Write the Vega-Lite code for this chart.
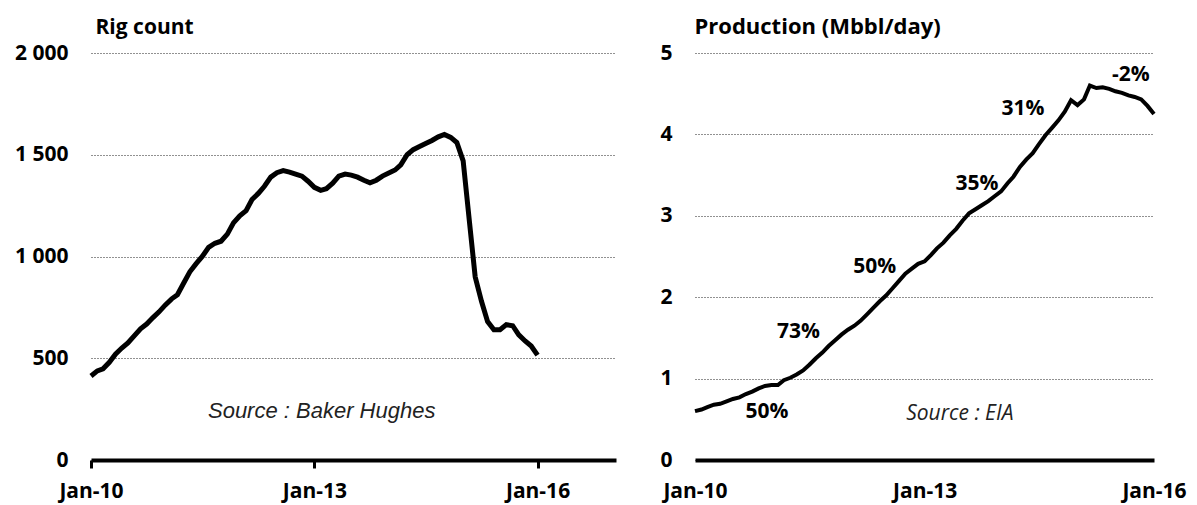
{
  "$schema": "https://vega.github.io/schema/vega-lite/v6.json",
  "background": "white",
  "padding": {"left": 14, "top": 15, "right": 5, "bottom": 5},
  "autosize": {"type": "pad"},
  "spacing": 43,
  "config": {
    "view": {"stroke": null},
    "axis": {"labelFont": "Open Sans", "labelFontWeight": "bold", "labelFontSize": 21, "labelColor": "#000", "titleFont": "Open Sans", "titleFontWeight": "bold", "titleFontSize": 21, "titleColor": "#000"}
  },
  "datasets": {
    "rigs": [
      {"date":"2010-01-01","v":413},{"date":"2010-02-01","v":438},{"date":"2010-03-01","v":448},{"date":"2010-04-01","v":480},{"date":"2010-05-01","v":520},{"date":"2010-06-01","v":550},{"date":"2010-07-01","v":575},{"date":"2010-08-01","v":610},{"date":"2010-09-01","v":645},{"date":"2010-10-01","v":668},{"date":"2010-11-01","v":700},{"date":"2010-12-01","v":728},
      {"date":"2011-01-01","v":762},{"date":"2011-02-01","v":792},{"date":"2011-03-01","v":812},{"date":"2011-04-01","v":870},{"date":"2011-05-01","v":925},{"date":"2011-06-01","v":965},{"date":"2011-07-01","v":1000},{"date":"2011-08-01","v":1045},{"date":"2011-09-01","v":1065},{"date":"2011-10-01","v":1075},{"date":"2011-11-01","v":1110},{"date":"2011-12-01","v":1165},
      {"date":"2012-01-01","v":1200},{"date":"2012-02-01","v":1225},{"date":"2012-03-01","v":1280},{"date":"2012-04-01","v":1310},{"date":"2012-05-01","v":1345},{"date":"2012-06-01","v":1390},{"date":"2012-07-01","v":1412},{"date":"2012-08-01","v":1422},{"date":"2012-09-01","v":1415},{"date":"2012-10-01","v":1405},{"date":"2012-11-01","v":1395},{"date":"2012-12-01","v":1370},
      {"date":"2013-01-01","v":1340},{"date":"2013-02-01","v":1325},{"date":"2013-03-01","v":1333},{"date":"2013-04-01","v":1360},{"date":"2013-05-01","v":1395},{"date":"2013-06-01","v":1405},{"date":"2013-07-01","v":1400},{"date":"2013-08-01","v":1390},{"date":"2013-09-01","v":1375},{"date":"2013-10-01","v":1362},{"date":"2013-11-01","v":1375},{"date":"2013-12-01","v":1395},
      {"date":"2014-01-01","v":1410},{"date":"2014-02-01","v":1425},{"date":"2014-03-01","v":1450},{"date":"2014-04-01","v":1500},{"date":"2014-05-01","v":1525},{"date":"2014-06-01","v":1540},{"date":"2014-07-01","v":1555},{"date":"2014-08-01","v":1570},{"date":"2014-09-01","v":1588},{"date":"2014-10-01","v":1600},{"date":"2014-11-01","v":1585},{"date":"2014-12-01","v":1560},
      {"date":"2015-01-01","v":1470},{"date":"2015-02-01","v":1170},{"date":"2015-03-01","v":900},{"date":"2015-04-01","v":780},{"date":"2015-05-01","v":680},{"date":"2015-06-01","v":640},{"date":"2015-07-01","v":640},{"date":"2015-08-01","v":665},{"date":"2015-09-01","v":660},{"date":"2015-10-01","v":615},{"date":"2015-11-01","v":585},{"date":"2015-12-01","v":560},
      {"date":"2016-01-01","v":515}
    ],
    "prod": [
      {"date":"2010-01-01","v":0.60},{"date":"2010-02-01","v":0.62},{"date":"2010-03-01","v":0.65},{"date":"2010-04-01","v":0.68},{"date":"2010-05-01","v":0.69},{"date":"2010-06-01","v":0.72},{"date":"2010-07-01","v":0.75},{"date":"2010-08-01","v":0.77},{"date":"2010-09-01","v":0.81},{"date":"2010-10-01","v":0.84},{"date":"2010-11-01","v":0.88},{"date":"2010-12-01","v":0.91},
      {"date":"2011-01-01","v":0.92},{"date":"2011-02-01","v":0.92},{"date":"2011-03-01","v":0.98},{"date":"2011-04-01","v":1.01},{"date":"2011-05-01","v":1.05},{"date":"2011-06-01","v":1.10},{"date":"2011-07-01","v":1.17},{"date":"2011-08-01","v":1.25},{"date":"2011-09-01","v":1.32},{"date":"2011-10-01","v":1.40},{"date":"2011-11-01","v":1.47},{"date":"2011-12-01","v":1.54},
      {"date":"2012-01-01","v":1.60},{"date":"2012-02-01","v":1.65},{"date":"2012-03-01","v":1.71},{"date":"2012-04-01","v":1.79},{"date":"2012-05-01","v":1.87},{"date":"2012-06-01","v":1.95},{"date":"2012-07-01","v":2.02},{"date":"2012-08-01","v":2.11},{"date":"2012-09-01","v":2.20},{"date":"2012-10-01","v":2.29},{"date":"2012-11-01","v":2.35},{"date":"2012-12-01","v":2.41},
      {"date":"2013-01-01","v":2.44},{"date":"2013-02-01","v":2.52},{"date":"2013-03-01","v":2.60},{"date":"2013-04-01","v":2.67},{"date":"2013-05-01","v":2.76},{"date":"2013-06-01","v":2.84},{"date":"2013-07-01","v":2.94},{"date":"2013-08-01","v":3.03},{"date":"2013-09-01","v":3.08},{"date":"2013-10-01","v":3.13},{"date":"2013-11-01","v":3.18},{"date":"2013-12-01","v":3.24},
      {"date":"2014-01-01","v":3.30},{"date":"2014-02-01","v":3.40},{"date":"2014-03-01","v":3.48},{"date":"2014-04-01","v":3.60},{"date":"2014-05-01","v":3.69},{"date":"2014-06-01","v":3.77},{"date":"2014-07-01","v":3.88},{"date":"2014-08-01","v":3.99},{"date":"2014-09-01","v":4.08},{"date":"2014-10-01","v":4.17},{"date":"2014-11-01","v":4.28},{"date":"2014-12-01","v":4.42},
      {"date":"2015-01-01","v":4.36},{"date":"2015-02-01","v":4.43},{"date":"2015-03-01","v":4.60},{"date":"2015-04-01","v":4.57},{"date":"2015-05-01","v":4.58},{"date":"2015-06-01","v":4.56},{"date":"2015-07-01","v":4.53},{"date":"2015-08-01","v":4.51},{"date":"2015-09-01","v":4.48},{"date":"2015-10-01","v":4.46},{"date":"2015-11-01","v":4.43},{"date":"2015-12-01","v":4.35},
      {"date":"2016-01-01","v":4.25}
    ],
    "pct": [
      {"date":"2010-12-10","v":0.59,"label":"50%"},
      {"date":"2011-05-10","v":1.57,"label":"73%"},
      {"date":"2012-05-08","v":2.37,"label":"50%"},
      {"date":"2013-09-08","v":3.39,"label":"35%"},
      {"date":"2014-04-15","v":4.31,"label":"31%"},
      {"date":"2015-09-12","v":4.73,"label":"-2%"}
    ],
    "src1": [{"date":"2013-02-06","v":241,"label":"Source : Baker Hughes"}],
    "src2": [{"date":"2013-06-18","v":0.565,"label":"Source : EIA"}]
  },
  "hconcat": [
    {
      "width": 525,
      "height": 407,
      "layer": [
        {
          "data": {"name": "rigs"},
          "mark": {"type": "line", "color": "#000", "strokeWidth": 5},
          "encoding": {
            "x": {"field": "date", "type": "temporal",
              "scale": {"type": "utc", "domain": [{"year": 2010, "month": 1, "date": 1, "utc": true}, {"year": 2017, "month": 1, "date": 20, "utc": true}]},
              "axis": {"title": null, "values": [{"year": 2010, "month": 1, "date": 1, "utc": true}, {"year": 2013, "month": 1, "date": 1, "utc": true}, {"year": 2016, "month": 1, "date": 1, "utc": true}],
                "format": "%b-%y", "grid": false, "domainColor": "#000", "domainWidth": 4, "ticks": true, "tickColor": "#000", "tickWidth": 3, "tickSize": 8, "labelPadding": 12, "labelFlush": false, "labelOverlap": false}},
            "y": {"field": "v", "type": "quantitative",
              "scale": {"domain": [0, 2000], "nice": false},
              "axis": {"title": "Rig count", "titleAngle": 0, "titleAlign": "left", "titleBaseline": "alphabetic", "titleX": 4, "titleY": -20,
                "values": [0, 500, 1000, 1500, 2000], "labelExpr": "replace(format(datum.value, ','), ',', ' ')",
                "domain": false, "ticks": false, "tickSize": 0, "labelPadding": 23,
                "grid": true, "gridColor": "#222", "gridDash": [1, 2], "gridWidth": 1}}
          }
        },
        {
          "data": {"name": "src1"},
          "mark": {"type": "text", "font": "Liberation Sans", "fontStyle": "italic", "fontSize": 22, "color": "#222", "baseline": "middle", "align": "center"},
          "encoding": {
            "x": {"field": "date", "type": "temporal"},
            "y": {"field": "v", "type": "quantitative"},
            "text": {"field": "label"}
          }
        }
      ]
    },
    {
      "width": 459,
      "height": 407,
      "layer": [
        {
          "data": {"name": "prod"},
          "mark": {"type": "line", "color": "#000", "strokeWidth": 4},
          "encoding": {
            "x": {"field": "date", "type": "temporal",
              "scale": {"type": "utc", "domain": [{"year": 2010, "month": 1, "date": 1, "utc": true}, {"year": 2016, "month": 1, "date": 1, "utc": true}]},
              "axis": {"title": null, "values": [{"year": 2010, "month": 1, "date": 1, "utc": true}, {"year": 2013, "month": 1, "date": 1, "utc": true}, {"year": 2016, "month": 1, "date": 1, "utc": true}],
                "format": "%b-%y", "grid": false, "domainColor": "#000", "domainWidth": 4, "ticks": false, "labelPadding": 20, "labelFlush": false, "labelOverlap": false}},
            "y": {"field": "v", "type": "quantitative",
              "scale": {"domain": [0, 5], "nice": false},
              "axis": {"title": "Production (Mbbl/day)", "titleAngle": 0, "titleAlign": "left", "titleBaseline": "alphabetic", "titleX": -1, "titleY": -20, "titleFontSize": 22,
                "values": [0, 1, 2, 3, 4, 5], "format": "d",
                "domain": false, "ticks": false, "tickSize": 0, "labelPadding": 23,
                "grid": true, "gridColor": "#222", "gridDash": [1, 2], "gridWidth": 1}}
          }
        },
        {
          "data": {"name": "pct"},
          "mark": {"type": "text", "font": "Open Sans", "fontWeight": "bold", "fontSize": 21, "color": "#000", "baseline": "middle", "align": "center"},
          "encoding": {
            "x": {"field": "date", "type": "temporal"},
            "y": {"field": "v", "type": "quantitative"},
            "text": {"field": "label"}
          }
        },
        {
          "data": {"name": "src2"},
          "mark": {"type": "text", "font": "Open Sans", "fontStyle": "italic", "fontSize": 21, "color": "#222", "baseline": "middle", "align": "center"},
          "encoding": {
            "x": {"field": "date", "type": "temporal"},
            "y": {"field": "v", "type": "quantitative"},
            "text": {"field": "label"}
          }
        }
      ]
    }
  ]
}
